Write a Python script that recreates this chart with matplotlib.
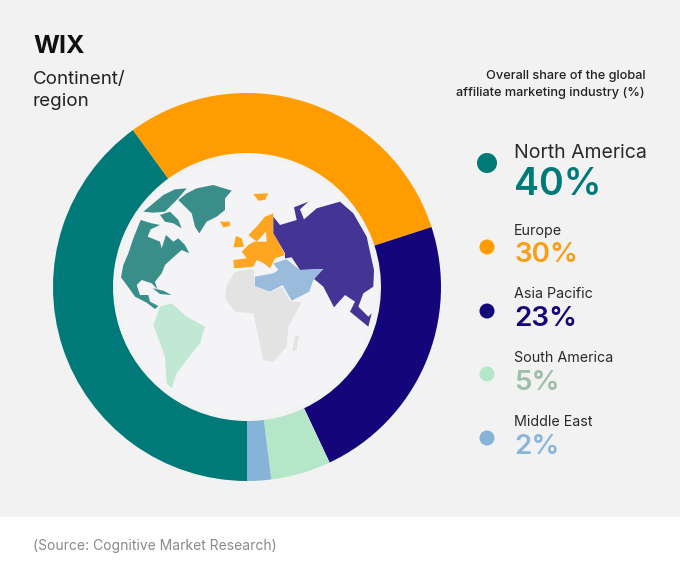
import matplotlib
matplotlib.use('Agg')
import matplotlib.pyplot as plt
from matplotlib.patches import Polygon, Rectangle, Circle

plt.rcParams['font.family'] = ['Inter', 'DejaVu Sans']

regions = ['North America', 'Europe', 'Asia Pacific', 'South America', 'Middle East']
shares = [40, 30, 23, 5, 2]
colors = ['#007a78', '#ff9d00', '#14067a', '#b5e6c8', '#86b4d8']
text_colors = ['#007a78', '#fb9d14', '#14067a', '#9dbfa9', '#8bb6da']

# shapes of the background map, traced in pixels of a 3x crop at (110, 170)
north_america = [(33, 322), (40, 285), (55, 250), (70, 205), (92, 150), (125, 160), (150, 165), (122, 178),
                 (113, 200), (150, 215), (155, 235), (168, 195), (190, 215), (205, 205), (225, 225), (238, 250),
                 (215, 240), (190, 262), (165, 285), (155, 310), (135, 335), (142, 358), (125, 340), (95, 330),
                 (80, 345), (90, 375), (115, 375), (120, 395), (145, 408), (135, 417), (110, 398), (75, 380),
                 (50, 345)]
arctic_1 = [(100, 125), (130, 100), (160, 75), (195, 58), (230, 55), (205, 85), (185, 105), (165, 125), (130, 128)]
arctic_2 = [(150, 135), (180, 125), (205, 150), (215, 175), (190, 160), (165, 155)]
greenland = [(205, 90), (230, 70), (260, 55), (310, 45), (365, 62), (345, 85), (345, 120), (320, 140), (290, 155),
             (268, 190), (255, 170), (245, 130), (215, 100)]
cuba = [(128, 355), (160, 362), (185, 375), (150, 372)]
south_america = [(150, 410), (185, 400), (230, 440), (285, 470), (270, 520), (230, 570), (200, 610), (185, 655),
                 (170, 640), (165, 560), (130, 465)]
europe = [(490, 130), (490, 190), (505, 215), (525, 255), (495, 265), (480, 295), (462, 280), (440, 270), (430, 290),
          (372, 295), (370, 270), (410, 265), (395, 245), (415, 225), (432, 215), (470, 215), (468, 185),
          (440, 215), (415, 195), (440, 170), (465, 140)]
uk = [(378, 198), (395, 205), (402, 230), (370, 232)]
iceland = [(330, 155), (360, 155), (360, 168), (340, 172)]
svalbard = [(430, 72), (475, 70), (465, 90), (445, 92)]
asia = [(490, 140), (510, 165), (560, 150), (552, 112), (595, 95), (570, 118), (582, 148), (620, 115), (690, 95),
        (730, 130), (770, 200), (792, 300), (790, 350), (760, 370), (745, 410), (775, 440), (785, 430), (775, 470),
        (720, 425), (735, 395), (705, 375), (672, 412), (640, 350), (610, 325), (640, 297), (570, 300), (545, 262),
        (525, 265), (525, 250), (505, 215), (490, 190)]
middle_east = [(490, 280), (530, 268), (570, 300), (640, 297), (610, 330), (598, 365), (545, 392), (518, 345),
               (480, 365), (435, 348), (435, 320), (490, 310), (505, 300)]
africa = [(375, 305), (430, 298), (435, 345), (480, 368), (515, 350), (540, 395), (575, 395), (535, 470), (530, 530),
          (490, 575), (460, 570), (445, 500), (430, 430), (375, 425), (345, 385), (350, 345)]
madagascar = [(555, 497), (567, 497), (560, 540), (547, 545)]

map_shapes = [
    (north_america, '#3a8e8a'), (arctic_1, '#3a8e8a'), (arctic_2, '#3a8e8a'), (greenland, '#3a8e8a'), (cuba, '#3a8e8a'),
    (south_america, '#c0e8d2'),
    (africa, '#e3e3e3'), (madagascar, '#e3e3e3'),
    (europe, '#ffa51f'), (uk, '#ffa51f'), (iceland, '#ffa51f'), (svalbard, '#ffa51f'),
    (asia, '#443595'), (middle_east, '#99bcdc'),
]

W, H = 680, 572
fig = plt.figure(figsize=(W / 100, H / 100), dpi=100, facecolor='#f2f2f3')

# overlay in pixel coordinates, y going down like the screenshot
ax = fig.add_axes([0, 0, 1, 1])
ax.set_xlim(0, W)
ax.set_ylim(H, 0)
ax.axis('off')
ax.add_patch(Rectangle((0, 517), W, H - 517, color='white', zorder=0))

ax_pie = fig.add_axes([53 / W, (H - 481) / H, 388 / W, 388 / H])
ax_pie.pie(shares, colors=colors, startangle=270, counterclock=False, radius=1,
           wedgeprops={'width': 60 / 194, 'linewidth': 0})
ax_pie.set_xlim(-1, 1)
ax_pie.set_ylim(-1, 1)

ax2 = fig.add_axes([0, 0, 1, 1])
ax2.set_xlim(0, W)
ax2.set_ylim(H, 0)
ax2.axis('off')
ax2.patch.set_alpha(0)

ax2.add_patch(Circle((247.5, 287), 130, color='#f4f4f6', lw=0, zorder=1))
for pts, col in map_shapes:
    ax2.add_patch(Polygon([(110 + x / 3, 170 + y / 3) for x, y in pts], closed=True, color=col, lw=0, zorder=2))

ax2.text(33, 53, 'WIX', fontsize=18, fontweight='bold', color='#111111', va='baseline')
ax2.text(33, 84, 'Continent/', fontsize=13.5, color='#222222', va='baseline')
ax2.text(33, 106, 'region', fontsize=13.5, color='#222222', va='baseline')
ax2.text(645, 79, 'Overall share of the global', fontsize=9.2, fontweight='medium', color='#222222',
         ha='right', va='baseline')
ax2.text(645, 96, 'affiliate marketing industry (%)', fontsize=9.2, fontweight='medium', color='#222222',
         ha='right', va='baseline')

legend_y = [163, 247, 311, 374, 438]
legend_r = [10, 7.5, 7.5, 7.5, 7.5]
name_y = [158, 235, 298, 362, 426]
value_y = [195, 262, 326, 390, 454]
for i, name in enumerate(regions):
    ax2.add_patch(Circle((487, legend_y[i]), legend_r[i], color=colors[i], lw=0))
    big = i == 0
    ax2.text(514, name_y[i], name, fontsize=14 if big else 10.3, color='#2a2a2a', va='baseline')
    ax2.text(514, value_y[i], f'{shares[i]}%', fontsize=27 if big else 20, fontweight='semibold',
             color=text_colors[i], va='baseline')

ax2.text(33, 550, '(Source: Cognitive Market Research)', fontsize=10, color='#8a8a8a', va='baseline')

fig.savefig('out.png', dpi=100, facecolor=fig.get_facecolor())
